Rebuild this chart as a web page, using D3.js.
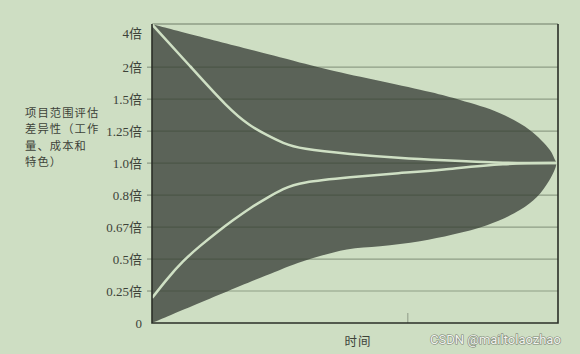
<!DOCTYPE html>
<html lang="zh">
  <head>
    <meta charset="UTF-8" />
    <title>Cone of uncertainty</title>
    <script src="https://cdnjs.cloudflare.com/ajax/libs/d3/7.8.5/d3.min.js"></script>
    <style>
      body {
        margin: 0;
        background: #cedec3;
      }
      text {
        fill: #3d4239;
      }
      .ticklabel {
        font-family: "Liberation Serif", "Noto Sans CJK SC", serif;
        font-size: 13px;
      }
      .title {
        font-family: "Noto Sans CJK SC", sans-serif;
        font-size: 11.3px;
        letter-spacing: 1.1px;
      }
    </style>
  </head>
  <body>
    <div id="chart"></div>
    <script>
      // tick labels, bottom to top (evenly spaced)
      const yTicks = ["0", "0.25倍", "0.5倍", "0.67倍", "0.8倍", "1.0倍", "1.25倍", "1.5倍", "2倍", "4倍"];
      const yTitle = ["项目范围评估", "差异性（工作", "量、成本和", "特色）"];
      const xTitle = "时间";
      const xMarks = [63];

      // outer cone, upper edge left -> right, then lower edge right -> left
      const coneUpper = [
        [0, 9.34], [31.5, 8.31], [43.8, 7.91], [68.5, 7.22], [75.9, 6.97],
        [85.7, 6.56], [93.1, 6.03], [98.0, 5.41], [99.3, 5.09], [99.6, 5.0]
      ];
      const coneLower = [
        [99.2, 4.8], [97.8, 4.45], [94.8, 3.94], [90.6, 3.53], [82.5, 3.06],
        [74.1, 2.77], [66.0, 2.56], [56.2, 2.4], [48.0, 2.3], [39.7, 2.03],
        [31.5, 1.66], [0, 0]
      ];

      // inner estimate curves
      const upperCurve = [
        [0, 9.34], [9.4, 8.03], [18.7, 6.72], [24.1, 6.16], [28.3, 5.88],
        [32.3, 5.62], [36.5, 5.45], [48.8, 5.28], [61.1, 5.16], [70.9, 5.09],
        [86.9, 5.0], [100, 5.0]
      ];
      const lowerCurve = [
        [0, 0.78], [3.7, 1.38], [7.6, 1.94], [11.8, 2.41], [16.0, 2.84], [20.0, 3.22],
        [24.1, 3.59], [28.3, 3.91], [32.3, 4.2], [36.5, 4.4], [48.8, 4.56],
        [61.1, 4.69], [70.9, 4.78], [86.9, 5.0], [100, 5.0]
      ];

      const width = 580;
      const height = 354;
      const plot = { left: 152, right: 558, top: 24, bottom: 323 };

      const svg = d3
        .select("#chart")
        .append("svg")
        .attr("width", width)
        .attr("height", height);

      const xScale = d3.scaleLinear().domain([0, 100]).range([plot.left, plot.right]);
      const yScale = d3.scaleLinear().domain([0, 9.35]).range([plot.bottom, plot.top]);

      const line = d3
        .line()
        .x((d) => xScale(d[0]))
        .y((d) => yScale(d[1]))
        .curve(d3.curveCatmullRom.alpha(0.5));

      const smooth = d3
        .line()
        .x((d) => xScale(d[0]))
        .y((d) => yScale(d[1]))
        .curve(d3.curveBasis);

      // cone
      svg
        .append("path")
        .attr("d", line(coneUpper.concat(coneLower)) + "Z")
        .attr("fill", "#5b6358");

      // gridlines on top of the fill
      svg
        .append("g")
        .selectAll("line")
        .data(d3.range(1, yTicks.length - 1))
        .enter()
        .append("line")
        .attr("x1", plot.left)
        .attr("x2", plot.right)
        .attr("y1", (d) => yScale(d))
        .attr("y2", (d) => yScale(d))
        .attr("stroke", "rgba(55,68,50,0.42)")
        .attr("stroke-width", 1.2);

      // top frame line
      svg
        .append("line")
        .attr("x1", plot.left)
        .attr("x2", plot.right)
        .attr("y1", plot.top)
        .attr("y2", plot.top)
        .attr("stroke", "#8e9c86")
        .attr("stroke-width", 1.5);

      // inner curves
      [upperCurve, lowerCurve].forEach((c) => {
        svg
          .append("path")
          .attr("d", smooth(c))
          .attr("fill", "none")
          .attr("stroke", "#cfe0c4")
          .attr("stroke-width", 2.5);
      });

      // small marks on the time axis
      svg
        .selectAll(".xmark")
        .data(xMarks)
        .enter()
        .append("line")
        .attr("x1", (d) => xScale(d))
        .attr("x2", (d) => xScale(d))
        .attr("y1", plot.bottom - 10)
        .attr("y2", plot.bottom)
        .attr("stroke", "#9aa792")
        .attr("stroke-width", 1.2);

      // y axis ticks + labels
      const ty = svg.append("g");
      ty.selectAll("line")
        .data(d3.range(1, yTicks.length - 1))
        .enter()
        .append("line")
        .attr("x1", plot.left - 5)
        .attr("x2", plot.left)
        .attr("y1", (d) => yScale(d))
        .attr("y2", (d) => yScale(d))
        .attr("stroke", "#7e8c77");
      ty.selectAll("text")
        .data(yTicks)
        .enter()
        .append("text")
        .attr("class", "ticklabel")
        .attr("x", plot.left - 10)
        .attr("y", (d, i) => (i === yTicks.length - 1 ? 33 : yScale(i)))
        .attr("dy", "0.35em")
        .attr("text-anchor", "end")
        .text((d) => d);

      // frame: left, bottom, right
      svg
        .append("path")
        .attr("d", `M${plot.left},${plot.top}V${plot.bottom}H${plot.right}V${plot.top}`)
        .attr("fill", "none")
        .attr("stroke", "#2b2f29")
        .attr("stroke-width", 1.6);

      // axis titles
      svg
        .append("g")
        .selectAll("text")
        .data(yTitle)
        .enter()
        .append("text")
        .attr("class", "title")
        .attr("x", 25)
        .attr("y", (d, i) => 113 + i * 16.4)
        .attr("dy", "0.35em")
        .text((d) => d);

      svg
        .append("text")
        .attr("class", "title")
        .style("font-size", "12.5px")
        .attr("x", 358)
        .attr("y", 342)
        .attr("dy", "0.35em")
        .attr("text-anchor", "middle")
        .text(xTitle);

      // watermark
      svg
        .append("text")
        .attr("x", 430)
        .attr("y", 339)
        .attr("dy", "0.35em")
        .style("font-family", "Roboto, sans-serif")
        .style("font-size", "13px")
        .style("fill", "#f3f5f0")
        .style("stroke", "#7a8374")
        .style("stroke-width", 1.2)
        .style("paint-order", "stroke")
        .text("CSDN @mailtolaozhao");
    </script>
  </body>
</html>
